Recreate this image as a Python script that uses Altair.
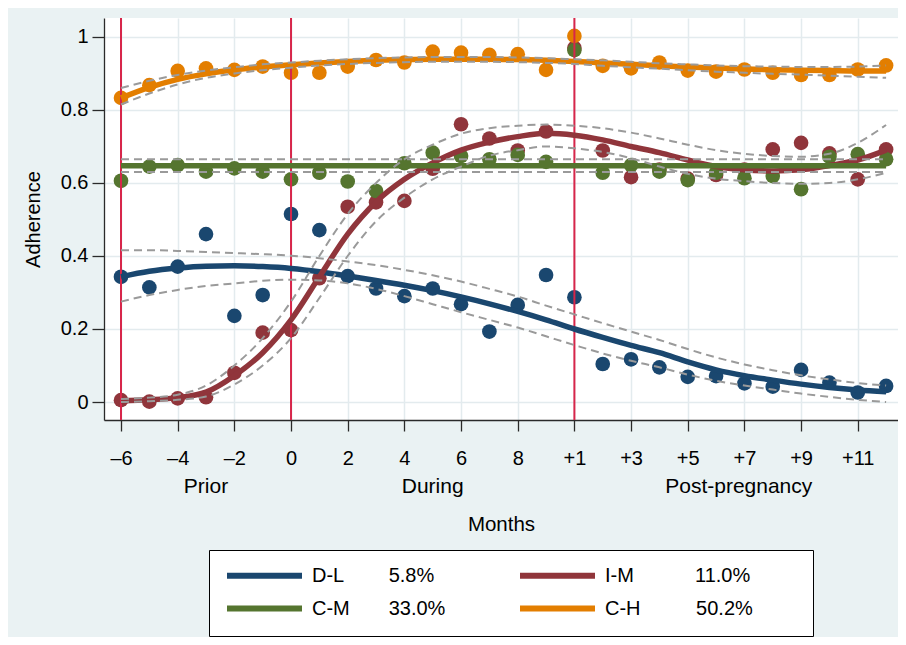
import altair as alt
import pandas as pd

FONT = "Liberation Sans, Arial, Helvetica, sans-serif"

# month index: -6..9 = prior/during, 10..21 = post-pregnancy months +1..+12
months = list(range(-6, 22))
groups = ["D-L", "I-M", "C-M", "C-H"]
shares = ["5.8%", "11.0%", "33.0%", "50.2%"]
colors = ["#1a476f", "#90353b", "#55752f", "#e37e00"]

# observed monthly adherence (markers)
dl_obs = [0.343, 0.314, 0.371, 0.460, 0.236, 0.293, 0.515, 0.471, 0.345, 0.311,
          0.290, 0.311, 0.268, 0.193, 0.266, 0.348, 0.287, 0.104, 0.117, 0.095,
          0.069, 0.071, 0.051, 0.042, 0.088, 0.053, 0.026, 0.044]
im_obs = [0.005, 0.001, 0.010, 0.013, 0.080, 0.190, 0.197, 0.339, 0.535, 0.547,
          0.551, 0.639, 0.761, 0.722, 0.689, 0.741, 0.970, 0.689, 0.616, 0.637,
          0.612, 0.622, 0.637, 0.692, 0.710, 0.681, 0.610, 0.692]
cm_obs = [0.606, 0.645, 0.649, 0.631, 0.640, 0.631, 0.610, 0.628, 0.604, 0.578,
          0.654, 0.683, 0.674, 0.665, 0.677, 0.658, 0.964, 0.628, 0.649, 0.631,
          0.608, 0.628, 0.613, 0.619, 0.583, 0.672, 0.679, 0.665]
ch_obs = [0.833, 0.868, 0.907, 0.914, 0.910, 0.919, 0.902, 0.902, 0.919, 0.937,
          0.930, 0.960, 0.957, 0.951, 0.953, 0.910, 1.003, 0.921, 0.914, 0.930,
          0.908, 0.905, 0.911, 0.902, 0.896, 0.896, 0.911, 0.922]

# fitted trajectories
dl_fit = [0.343, 0.358, 0.367, 0.372, 0.373, 0.371, 0.366, 0.357, 0.345, 0.333,
          0.320, 0.305, 0.288, 0.269, 0.248, 0.225, 0.200, 0.177, 0.155, 0.135,
          0.110, 0.088, 0.072, 0.060, 0.049, 0.040, 0.033, 0.028]
im_fit = [0.003, 0.006, 0.012, 0.027, 0.072, 0.135, 0.225, 0.343, 0.460, 0.548,
          0.610, 0.655, 0.690, 0.712, 0.727, 0.736, 0.731, 0.718, 0.700, 0.683,
          0.663, 0.645, 0.636, 0.633, 0.636, 0.648, 0.663, 0.690]
cm_fit = [0.647, 0.647, 0.647, 0.647, 0.647, 0.647, 0.647, 0.647, 0.647, 0.647,
          0.647, 0.647, 0.647, 0.647, 0.647, 0.647, 0.647, 0.647, 0.647, 0.647,
          0.647, 0.647, 0.647, 0.647, 0.647, 0.647, 0.647, 0.647]
ch_fit = [0.833, 0.862, 0.884, 0.899, 0.910, 0.918, 0.924, 0.929, 0.933, 0.936,
          0.938, 0.939, 0.939, 0.939, 0.938, 0.936, 0.933, 0.929, 0.925, 0.921,
          0.918, 0.915, 0.912, 0.910, 0.909, 0.908, 0.907, 0.907]

# confidence bands (dashed)
dl_hi = [0.416, 0.416, 0.414, 0.411, 0.408, 0.405, 0.401, 0.394, 0.385, 0.375,
         0.362, 0.347, 0.330, 0.310, 0.289, 0.264, 0.240, 0.216, 0.193, 0.170,
         0.145, 0.122, 0.103, 0.087, 0.073, 0.062, 0.052, 0.045]
dl_lo = [0.275, 0.293, 0.307, 0.318, 0.325, 0.332, 0.335, 0.333, 0.325, 0.310,
         0.290, 0.268, 0.246, 0.225, 0.204, 0.180, 0.156, 0.133, 0.113, 0.095,
         0.075, 0.058, 0.045, 0.034, 0.023, 0.014, 0.006, 0.000]
im_hi = [0.008, 0.012, 0.020, 0.045, 0.100, 0.175, 0.275, 0.400, 0.515, 0.600,
         0.665, 0.705, 0.735, 0.750, 0.757, 0.760, 0.757, 0.750, 0.738, 0.722,
         0.705, 0.690, 0.680, 0.674, 0.672, 0.680, 0.710, 0.759]
im_lo = [0.000, 0.002, 0.006, 0.015, 0.048, 0.100, 0.175, 0.285, 0.400, 0.495,
         0.560, 0.610, 0.645, 0.675, 0.690, 0.700, 0.695, 0.685, 0.668, 0.645,
         0.625, 0.612, 0.605, 0.600, 0.598, 0.600, 0.610, 0.628]
cm_hi = [0.665, 0.665, 0.665, 0.665, 0.665, 0.665, 0.665, 0.665, 0.665, 0.665,
         0.665, 0.665, 0.665, 0.665, 0.665, 0.665, 0.665, 0.665, 0.665, 0.665,
         0.665, 0.665, 0.665, 0.665, 0.665, 0.665, 0.665, 0.665]
cm_lo = [0.630, 0.630, 0.630, 0.630, 0.630, 0.630, 0.630, 0.630, 0.630, 0.630,
         0.630, 0.630, 0.630, 0.630, 0.630, 0.630, 0.630, 0.630, 0.630, 0.630,
         0.630, 0.630, 0.630, 0.630, 0.630, 0.630, 0.630, 0.630]
ch_hi = [0.860, 0.880, 0.896, 0.908, 0.917, 0.925, 0.930, 0.935, 0.939, 0.942,
         0.944, 0.945, 0.945, 0.945, 0.944, 0.942, 0.939, 0.936, 0.932, 0.928,
         0.925, 0.922, 0.920, 0.919, 0.918, 0.918, 0.919, 0.922]
ch_lo = [0.815, 0.845, 0.870, 0.888, 0.900, 0.909, 0.916, 0.922, 0.926, 0.929,
         0.931, 0.932, 0.932, 0.932, 0.931, 0.929, 0.926, 0.921, 0.917, 0.913,
         0.909, 0.905, 0.902, 0.899, 0.897, 0.894, 0.891, 0.888]

period_marks = [-6, 0, 10]
period_labels = ["Prior", "During", "Post-pregnancy"]
period_label_pos = [-3, 5, 15.8]

y_ticks = [0, 0.2, 0.4, 0.6, 0.8, 1]

obs = {"D-L": dl_obs, "I-M": im_obs, "C-M": cm_obs, "C-H": ch_obs}
fit = {"D-L": dl_fit, "I-M": im_fit, "C-M": cm_fit, "C-H": ch_fit}
hi = {"D-L": dl_hi, "I-M": im_hi, "C-M": cm_hi, "C-H": ch_hi}
lo = {"D-L": dl_lo, "I-M": im_lo, "C-M": cm_lo, "C-H": ch_lo}
col_of = dict(zip(groups, colors))

rows = []
for g in groups:
    for i, m in enumerate(months):
        rows.append({"month": m, "group": g, "obs": obs[g][i], "fit": fit[g][i],
                     "hi": hi[g][i], "lo": lo[g][i], "pcolor": col_of[g]})
df = pd.DataFrame(rows)
df["order"] = df["group"].map({g: i for i, g in enumerate(groups)})

NB = "\u00a0"
ZW = "\u200b"  # keeps trailing spaces from being trimmed
label_text = {
    "D-L": "D-L" + NB * 8 + shares[0],
    "I-M": "I-M" + NB * 11 + shares[1] + NB * 8 + ZW,
    "C-M": "C-M" + NB * 7 + shares[2],
    "C-H": "C-H" + NB * 10 + shares[3] + NB * 8 + ZW,
}
label_expr = " : ".join(
    [f"datum.label == '{g}' ? '{label_text[g]}'" for g in groups]) + " : datum.label"

GRID = "#e3ebee"
AX = "#2a2a2a"
W, H = 794, 402

x_scale = alt.Scale(domain=[-6.6, 21.42], nice=False, zero=False)
y_scale = alt.Scale(domain=[-0.0493, 1.052], nice=False, zero=False)
c_scale = alt.Scale(domain=groups, range=colors)

x_axis = alt.Axis(
    values=months,
    labelExpr=("datum.value < 0 ? (datum.value % 2 == 0 ? '\u2013' + (-datum.value) : '') : "
               "datum.value < 10 ? (datum.value % 2 == 0 ? '' + datum.value : '') : "
               "((datum.value - 9) % 2 == 1 ? '+' + (datum.value - 9) : '')"),
    title="Months", tickSize=11, labelPadding=17, titlePadding=46,
    grid=True, gridColor=GRID, gridWidth=1.5,
    domainColor=AX, tickColor=AX, domainWidth=1.3, tickWidth=1.3,
    labelFontSize=20, titleFontSize=20.5, labelOverlap=False, labelFlush=False,
)
y_axis = alt.Axis(
    values=y_ticks, format="~g", title="Adherence", tickSize=12, labelPadding=4,
    titlePadding=17, grid=True, gridColor=GRID, gridWidth=1.5,
    domainColor=AX, tickColor=AX, domainWidth=1.3, tickWidth=1.3,
    labelFontSize=20, titleFontSize=20,
)

base = alt.Chart(df)

points = base.mark_circle(size=215, opacity=1).encode(
    x=alt.X("month:Q", scale=x_scale, axis=x_axis),
    y=alt.Y("obs:Q", scale=y_scale, axis=y_axis),
    fill=alt.Fill("pcolor:N", scale=None),
    order="order:Q",
)

vlines = alt.Chart(pd.DataFrame({"m": period_marks})).mark_rule(
    color="#d7264a", strokeWidth=2
).encode(x=alt.X("m:Q", scale=x_scale))

fits = base.mark_line(strokeWidth=5.5, interpolate="monotone").encode(
    x=alt.X("month:Q", scale=x_scale),
    y=alt.Y("fit:Q", scale=y_scale),
    stroke=alt.Stroke(
        "group:N", scale=c_scale,
        legend=alt.Legend(
            title=None, orient="none", legendX=105, legendY=532, columns=2,
            direction="horizontal",
            symbolType="M-1,0H9", symbolSize=225, symbolStrokeWidth=6,
            labelFont=FONT, labelFontSize=20, labelColor="black",
            labelOffset=67, labelLimit=500, labelExpr=label_expr,
            columnPadding=62, rowPadding=8, padding=15,
            fillColor="white", strokeColor="black",
        ),
    ),
    detail="group:N",
)

hi_lines = base.mark_line(strokeWidth=2, strokeDash=[8, 5], color="#9a9a9a",
                          interpolate="monotone").encode(
    x=alt.X("month:Q", scale=x_scale),
    y=alt.Y("hi:Q", scale=y_scale),
    detail="group:N",
)
lo_lines = base.mark_line(strokeWidth=2, strokeDash=[8, 5], color="#9a9a9a",
                          interpolate="monotone").encode(
    x=alt.X("month:Q", scale=x_scale),
    y=alt.Y("lo:Q", scale=y_scale),
    detail="group:N",
)

period_text = alt.Chart(
    pd.DataFrame({"pos": period_label_pos, "label": period_labels})
).mark_text(fontSize=21, font=FONT, baseline="alphabetic", align="center",
            color="black").encode(
    x=alt.X("pos:Q", scale=x_scale),
    y=alt.value(H + 73),
    text="label:N",
)

chart = alt.layer(points, vlines, fits, hi_lines, lo_lines, period_text).properties(
    width=W, height=H,
    padding={"left": 96, "top": 10, "right": 0, "bottom": 217},
    autosize=alt.AutoSizeParams(type="none"),
    background="#eaf2f3",
).configure_view(fill="white", stroke=None).configure_axis(
    labelFont=FONT, titleFont=FONT, labelColor="black", titleColor="black",
    titleFontWeight="normal",
)

chart.save("out.html", embed_options={"renderer": "svg", "actions": False})
